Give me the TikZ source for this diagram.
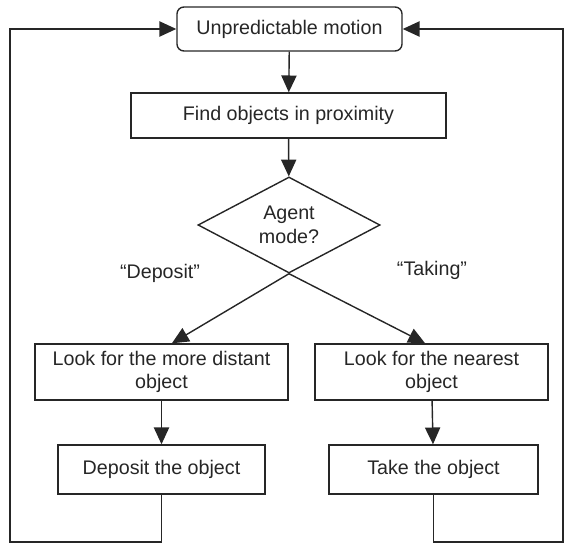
\documentclass[tikz,border=0pt]{standalone}
\usepackage{fontspec}
\setmainfont{Liberation Sans}
\usetikzlibrary{shapes.geometric,arrows.meta}
\begin{document}
\begin{tikzpicture}[x=0.025cm,y=-0.025cm,
		box/.style={draw=black!85,line width=1pt,inner sep=0pt,align=center,
			font=\fontsize{14}{16.8}\selectfont,text=black!85},
		arr/.style={line width=1pt,draw=black!85,-{Triangle[length=4.2mm,width=3.8mm]}}]
		\useasboundingbox (0,0) rectangle (565,544);
		
		\node[box,rounded corners=5pt,minimum width=5.625cm,minimum height=1.1cm] (motion) at (289.5,29) {Unpredictable motion};
		\node[box,minimum width=7.875cm,minimum height=1.125cm] (find) at (288.5,115.5) {Find objects in proximity};
		\node[box,diamond,aspect=1.9,minimum width=4.55cm,minimum height=2.4cm] (mode) at (289,225) {Agent\\mode?};
		
		\node[box,minimum width=6.325cm,minimum height=1.4cm] (far) at (161.5,372) {Look for the more distant\\object};
		\node[box,minimum width=5.825cm,minimum height=1.4cm] (near) at (431.5,372) {Look for the nearest\\object};
		\node[box,minimum width=5.175cm,minimum height=1.225cm] (deposit) at (161.5,469.5) {Deposit the object};
		\node[box,minimum width=5.225cm,minimum height=1.225cm] (take) at (433.5,469.5) {Take the object};
		
		\node[box,draw=none] (deplab) at (160,273) {“Deposit”};
		\node[box,draw=none] (takelab) at (432,270) {“Taking”};
		
		\coordinate (cornerl) at (10,542);
		\coordinate (cornerr) at (563,542);
		
		\draw[arr] (motion) -- (find);
		\draw[arr] (find) -- (mode);
		\draw[arr] (mode.south) -- ([xshift=0.26cm]far.north);
		\draw[arr] (mode.south) -- ([xshift=-0.16cm]near.north);
		\draw[arr] (far) -- (deposit);
		\draw[arr] (near) -- (take);
		
		% back to the start
		\draw[arr] (deposit.south) |- (cornerl) |- (motion.west);
		\draw[arr] (take.south) |- (cornerr) |- (motion.east);
\end{tikzpicture}
\end{document}
